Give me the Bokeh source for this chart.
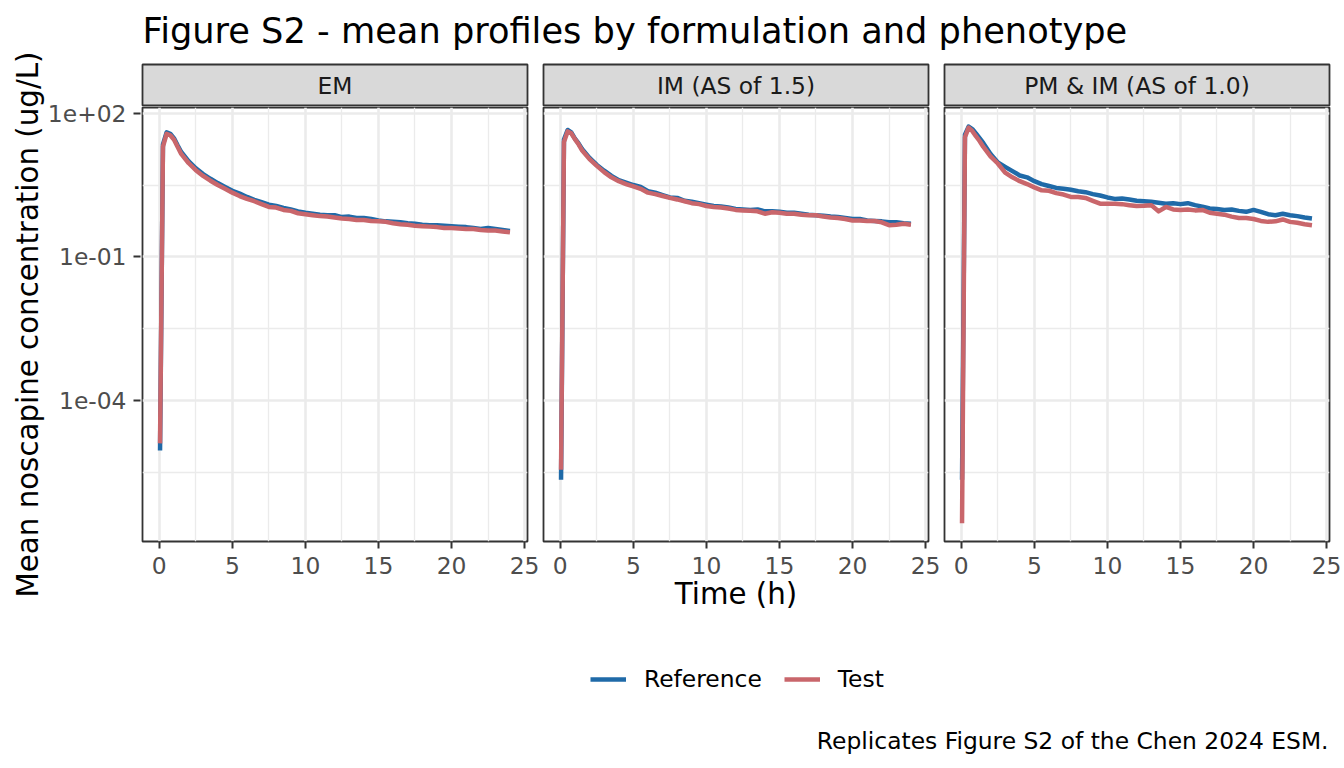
from bokeh.plotting import figure
from bokeh.models import Range1d, FixedTicker, CustomJSTickFormatter, Label, Legend, LegendItem
from bokeh.layouts import column, row
from bokeh.embed import file_html
from bokeh.resources import INLINE

# ---------------- data ----------------
TIME_H = [0.05, 0.25, 0.5, 0.75, 1.0, 1.25, 1.5, 2.0, 2.5, 3.0, 3.5, 4.0, 4.5, 5.0,
          5.5, 6.0, 6.5, 7.0, 7.5, 8.0, 8.5, 9.0, 9.5, 10.0, 10.5, 11.0, 11.5, 12.0,
          12.5, 13.0, 13.5, 14.0, 14.5, 15.0, 15.5, 16.0, 16.5, 17.0, 17.5, 18.0,
          18.5, 19.0, 19.5, 20.0, 20.5, 21.0, 21.5, 22.0, 22.5, 23.0, 23.5, 24.0]

PANELS = ["EM", "IM (AS of 1.5)", "PM & IM (AS of 1.0)"]
FORMULATIONS = ["Reference", "Test"]

EM_REF = [8.91e-6, 22.4, 39.8, 37.2, 30.2, 21.4, 15.5, 10.0, 7.08, 5.37, 4.27, 3.47, 2.88, 2.40,
          2.09, 1.78, 1.55, 1.38, 1.23, 1.15, 1.05, 0.977, 0.891, 0.832, 0.794, 0.759, 0.741, 0.741,
          0.676, 0.692, 0.646, 0.646, 0.617, 0.575, 0.550, 0.537, 0.525, 0.501, 0.490, 0.468,
          0.457, 0.457, 0.447, 0.437, 0.427, 0.417, 0.398, 0.380, 0.398, 0.380, 0.363, 0.347]
EM_TEST = [1.26e-5, 20.0, 37.2, 34.7, 28.2, 20.0, 14.1, 9.12, 6.46, 4.90, 3.89, 3.16, 2.63, 2.19,
           1.86, 1.62, 1.45, 1.26, 1.10, 1.07, 0.955, 0.912, 0.813, 0.776, 0.741, 0.708, 0.692, 0.661,
           0.631, 0.617, 0.589, 0.589, 0.562, 0.550, 0.537, 0.501, 0.479, 0.468, 0.447, 0.437,
           0.427, 0.417, 0.398, 0.398, 0.389, 0.380, 0.380, 0.363, 0.355, 0.355, 0.339, 0.324]
IM_REF = [2.19e-6, 28.2, 44.7, 39.8, 29.5, 23.4, 17.8, 11.7, 8.32, 6.31, 4.90, 3.98, 3.55, 3.16,
          2.88, 2.34, 2.19, 1.95, 1.74, 1.70, 1.48, 1.41, 1.32, 1.23, 1.15, 1.12, 1.07, 1.00,
          0.977, 0.955, 0.977, 0.891, 0.891, 0.871, 0.832, 0.832, 0.794, 0.759, 0.741, 0.724,
          0.692, 0.676, 0.646, 0.617, 0.617, 0.575, 0.562, 0.550, 0.525, 0.525, 0.501, 0.490]
IM_TEST = [3.55e-6, 25.1, 41.7, 38.0, 28.8, 22.4, 16.6, 11.0, 7.94, 5.89, 4.57, 3.80, 3.31, 2.95,
           2.63, 2.19, 2.04, 1.86, 1.70, 1.58, 1.45, 1.32, 1.26, 1.15, 1.10, 1.07, 1.02, 0.955,
           0.933, 0.912, 0.891, 0.794, 0.851, 0.832, 0.794, 0.794, 0.759, 0.741, 0.741, 0.692,
           0.661, 0.646, 0.617, 0.575, 0.575, 0.562, 0.562, 0.525, 0.457, 0.468, 0.490, 0.468]
PM_REF = [2.19e-6, 35.5, 52.5, 46.8, 38.0, 30.2, 24.0, 14.1, 9.33, 7.59, 6.17, 5.01, 4.57, 3.80,
          3.31, 3.02, 2.75, 2.63, 2.51, 2.34, 2.24, 2.04, 1.91, 1.74, 1.62, 1.66, 1.58, 1.48,
          1.45, 1.41, 1.35, 1.29, 1.32, 1.26, 1.32, 1.20, 1.12, 1.02, 1.00, 0.955,
          0.977, 0.912, 0.871, 0.955, 0.871, 0.776, 0.741, 0.794, 0.741, 0.708, 0.661, 0.631]
PM_TEST = [2.69e-7, 31.6, 50.1, 42.7, 33.1, 26.3, 20.0, 12.6, 8.91, 5.75, 4.57, 3.80, 3.31, 2.82,
           2.45, 2.40, 2.14, 2.00, 1.78, 1.78, 1.70, 1.48, 1.29, 1.29, 1.29, 1.26, 1.20, 1.15,
           1.17, 1.20, 0.891, 1.10, 0.977, 0.955, 0.977, 0.933, 0.955, 0.832, 0.794, 0.759,
           0.692, 0.646, 0.646, 0.617, 0.562, 0.537, 0.550, 0.603, 0.537, 0.513, 0.479, 0.457]

SERIES = [(EM_REF, EM_TEST), (IM_REF, IM_TEST), (PM_REF, PM_TEST)]

X_TICKS = [0, 5, 10, 15, 20, 25]
X_MINOR = [2.5, 7.5, 12.5, 17.5, 22.5]
Y_TICKS = [1e-4, 1e-1, 1e2]
Y_MINOR = [10 ** -5.5, 10 ** -2.5, 10 ** 0.5]

TITLE = "Figure S2 - mean profiles by formulation and phenotype"
X_LABEL = "Time (h)"
Y_LABEL = "Mean noscapine concentration (ug/L)"
CAPTION = "Replicates Figure S2 of the Chen 2024 ESM."

# ---------------- style ----------------
FONT = "DejaVu Sans"
BLUE = "#1f6aa8"
RED = "#c9666b"
FRAME_W, FRAME_H = 385, 434
SMALL = "23.4px"
AXIS_T = "29.3px"
TITLE_T = "35.2px"
LEFT_B = [1, 4, 4]
RIGHT_B = [12, 12, 13]
X_RANGE = (-1.15, 25.2)
Y_RANGE = (10 ** -6.95, 10 ** 2.12)

fmt = CustomJSTickFormatter(code="""
const e = Math.round(Math.log10(tick));
const s = e < 0 ? '-' : '+';
const a = Math.abs(e);
return '1e' + s + (a < 10 ? '0' + a : '' + a);
""")


def style_ticks(ax):
    ax.axis_line_color = None
    ax.major_tick_line_color = "#333333"
    ax.major_tick_line_width = 2
    ax.major_tick_out = 7
    ax.major_tick_in = 0
    ax.minor_tick_line_color = None
    ax.major_label_text_font = FONT
    ax.major_label_text_font_size = SMALL
    ax.major_label_text_color = "#4d4d4d"


# y axis (shared, left of the first panel) with its title
yfig = figure(frame_width=1, frame_height=FRAME_H, y_axis_type="log",
              x_range=Range1d(0, 1), y_range=Range1d(*Y_RANGE),
              x_axis_location=None, y_axis_location="left", toolbar_location=None,
              output_backend="svg", title=None, min_border_left=140, min_border_right=0,
              min_border_top=107, min_border_bottom=75, outline_line_color=None)
yfig.grid.visible = False
ya = yfig.yaxis[0]
ya.ticker = FixedTicker(ticks=Y_TICKS, minor_ticks=Y_MINOR)
ya.formatter = fmt
style_ticks(ya)
ya.major_label_standoff = 7
ya.axis_label = Y_LABEL
ya.axis_label_text_font = FONT
ya.axis_label_text_font_size = AXIS_T
ya.axis_label_text_font_style = "normal"
ya.axis_label_text_color = "black"
ya.axis_label_standoff = 0

# title
title_fig = figure(width=1201, height=63, x_range=Range1d(0, 1), y_range=Range1d(0, 1),
                   x_axis_location=None, y_axis_location=None, toolbar_location=None,
                   output_backend="svg", min_border=0, outline_line_color=None, title=None)
title_fig.grid.visible = False
title_fig.add_layout(Label(x=1, y=33, x_units="screen", y_units="screen", text=TITLE,
                           text_font=FONT, text_font_size=TITLE_T, text_color="black",
                           text_baseline="middle", text_align="left"))

strips = []
panels = []
for i, name in enumerate(PANELS):
    s = figure(frame_width=FRAME_W, frame_height=42, x_range=Range1d(0, 1), y_range=Range1d(0, 1),
               x_axis_location=None, y_axis_location=None, toolbar_location=None,
               output_backend="svg", min_border_left=LEFT_B[i], min_border_right=RIGHT_B[i],
               min_border_top=1, min_border_bottom=0, title=None)
    s.grid.visible = False
    s.background_fill_color = "#d9d9d9"
    s.outline_line_color = "#333333"
    s.outline_line_width = 1.8
    s.add_layout(Label(x=0.5, y=0.5, text=name, text_font=FONT, text_font_size=SMALL,
                       text_color="#1a1a1a", text_align="center", text_baseline="middle"))
    strips.append(s)

    p = figure(frame_width=FRAME_W, frame_height=FRAME_H, y_axis_type="log",
               x_range=Range1d(*X_RANGE), y_range=Range1d(*Y_RANGE),
               y_axis_location=None, toolbar_location=None, output_backend="svg", title=None,
               min_border_left=LEFT_B[i], min_border_right=RIGHT_B[i],
               min_border_top=1, min_border_bottom=75)
    p.outline_line_color = "#333333"
    p.outline_line_width = 1.8

    p.xgrid.ticker = FixedTicker(ticks=X_TICKS, minor_ticks=X_MINOR)
    p.ygrid.ticker = FixedTicker(ticks=Y_TICKS, minor_ticks=Y_MINOR)
    for g in (p.xgrid, p.ygrid):
        g.grid_line_color = "#ebebeb"
        g.grid_line_width = 2.6
        g.minor_grid_line_color = "#ebebeb"
        g.minor_grid_line_width = 1.3

    xa = p.xaxis[0]
    xa.ticker = FixedTicker(ticks=X_TICKS, minor_ticks=X_MINOR)
    style_ticks(xa)
    xa.major_label_standoff = 8
    if i == 1:
        xa.axis_label = X_LABEL
        xa.axis_label_text_font = FONT
        xa.axis_label_text_font_size = AXIS_T
        xa.axis_label_text_font_style = "normal"
        xa.axis_label_text_color = "black"
        xa.axis_label_standoff = 0

    ref, test = SERIES[i]
    p.line(TIME_H, ref, line_color=BLUE, line_width=4.5, line_join="round")
    p.line(TIME_H, test, line_color=RED, line_width=4.5, line_join="round")
    panels.append(p)

# legend + caption
leg_fig = figure(width=1342, height=150, x_range=Range1d(0, 1), y_range=Range1d(0, 1),
                 x_axis_location=None, y_axis_location=None, toolbar_location=None,
                 output_backend="svg", min_border=0, outline_line_color=None, title=None)
leg_fig.grid.visible = False
r_ref = leg_fig.line([-3, -2], [-3, -3], line_color=BLUE, line_width=4.5)
r_test = leg_fig.line([-3, -2], [-3, -3], line_color=RED, line_width=4.5)
legend = Legend(items=[LegendItem(label=FORMULATIONS[0], renderers=[r_ref]),
                       LegendItem(label=FORMULATIONS[1], renderers=[r_test])],
                orientation="horizontal", location=(590, 73),
                label_text_font=FONT, label_text_font_size=SMALL, label_text_color="black",
                glyph_width=36, glyph_height=26, label_height=26, label_standoff=18,
                spacing=22, padding=0, margin=0, border_line_color=None,
                background_fill_alpha=0)
leg_fig.add_layout(legend)
leg_fig.add_layout(Label(x=1328, y=26, x_units="screen", y_units="screen", text=CAPTION,
                         text_font=FONT, text_font_size=SMALL, text_color="black",
                         text_align="right", text_baseline="middle"))

right_block = column(title_fig, row(*strips), row(*panels))
layout = column(row(yfig, right_block), leg_fig)
open("out.html", "w").write(file_html(layout, INLINE))
